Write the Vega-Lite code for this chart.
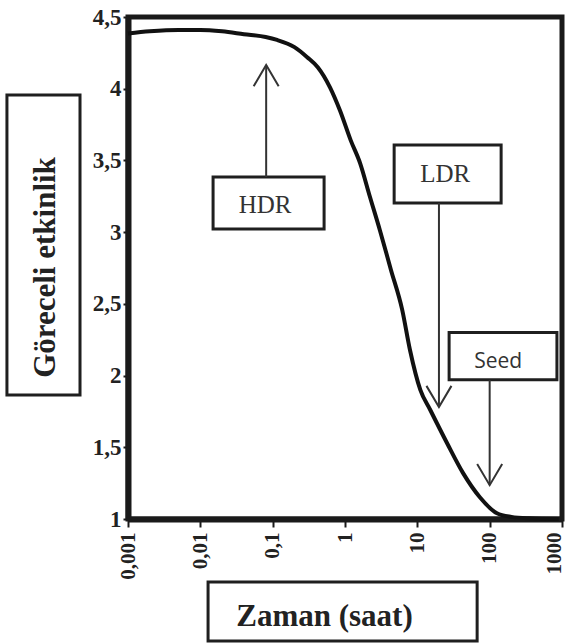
{
  "$schema": "https://vega.github.io/schema/vega-lite/v6.json",
  "width": 434,
  "height": 502,
  "autosize": {"type": "none"},
  "padding": {"left": 128, "top": 17, "right": 3, "bottom": 124},
  "background": "white",
  "config": {
    "view": {"stroke": "#1a1a1a", "strokeWidth": 5},
    "axis": {
      "zindex": 1,
      "grid": false,
      "domainColor": "#1a1a1a",
      "domainWidth": 6,
      "tickColor": "#1a1a1a",
      "tickWidth": 2,
      "tickSize": 5,
      "labelFont": "Liberation Serif",
      "labelFontWeight": "bold",
      "labelColor": "#222",
      "titleFont": "Liberation Serif",
      "titleFontWeight": "bold",
      "titleColor": "#222",
      "titleFontSize": 31
    }
  },
  "datasets": {
    "curve": [
      {"t": 0.001, "v": 4.385},
      {"t": 0.002, "v": 4.40},
      {"t": 0.005, "v": 4.41},
      {"t": 0.01, "v": 4.41},
      {"t": 0.02, "v": 4.40},
      {"t": 0.04, "v": 4.38},
      {"t": 0.08, "v": 4.36},
      {"t": 0.115, "v": 4.34},
      {"t": 0.2, "v": 4.29},
      {"t": 0.3, "v": 4.22},
      {"t": 0.42, "v": 4.15},
      {"t": 0.62, "v": 4.01},
      {"t": 0.85, "v": 3.85},
      {"t": 1.2, "v": 3.64},
      {"t": 1.62, "v": 3.48},
      {"t": 2.2, "v": 3.25},
      {"t": 3.05, "v": 3.01},
      {"t": 4.3, "v": 2.74},
      {"t": 6.17, "v": 2.46},
      {"t": 7.9, "v": 2.18},
      {"t": 11, "v": 1.90},
      {"t": 15.1, "v": 1.76},
      {"t": 25.7, "v": 1.53},
      {"t": 42.9, "v": 1.32},
      {"t": 73.7, "v": 1.15},
      {"t": 126, "v": 1.04},
      {"t": 200, "v": 1.015},
      {"t": 350, "v": 1.005},
      {"t": 900, "v": 1.0}
    ],
    "boxes": [
      {"name": "HDR", "x1": 0.015, "x2": 0.514, "y1": 3.022, "y2": 3.384},
      {"name": "LDR", "x1": 4.78, "x2": 144, "y1": 3.203, "y2": 3.607},
      {"name": "Seed", "x1": 27.5, "x2": 851, "y1": 1.97, "y2": 2.30},
      {"name": "ytitle", "x1": 0.0000212, "x2": 0.000217, "y1": 1.864, "y2": 3.956},
      {"name": "xtitle", "x1": 0.01279, "x2": 67.1, "y1": 0.149, "y2": 0.56}
    ],
    "labels": [
      {"text": "HDR", "x": 0.0785, "y": 3.133, "kind": "serif"},
      {"text": "LDR", "x": 24.3, "y": 3.349, "kind": "serif"},
      {"text": "Seed", "x": 131, "y": 2.052, "kind": "sans"}
    ],
    "arrows": [
      {"x": 0.0813, "y1": 3.384, "y2": 4.165, "dir": "up"},
      {"x": 19.9, "y1": 3.203, "y2": 1.78, "dir": "down"},
      {"x": 100, "y1": 1.97, "y2": 1.236, "dir": "down"}
    ]
  },
  "layer": [
    {
      "data": {"name": "curve"},
      "mark": {"type": "line", "color": "#111", "strokeWidth": 4, "interpolate": "monotone"},
      "encoding": {
        "x": {
          "field": "t", "type": "quantitative",
          "scale": {"type": "log", "domain": [0.001, 1000], "nice": false},
          "axis": {
            "values": [0.001, 0.01, 0.1, 1, 10, 100, 1000],
            "labelExpr": "replace(format(datum.value, '~g'), '.', ',')",
            "labelAngle": 270,
            "labelFontSize": 21,
            "tickSize": 8,
            "labelPadding": 5,
            "labelOffset": {"condition": {"test": "datum.value == 1000", "value": -8}, "value": 0},
            "title": "Zaman (saat)",
            "titleX": 196,
            "titleY": 106,
            "titleAlign": "center",
            "titleBaseline": "alphabetic"
          }
        },
        "y": {
          "field": "v", "type": "quantitative",
          "scale": {"domain": [1, 4.5], "nice": false, "zero": false},
          "axis": {
            "values": [1, 1.5, 2, 2.5, 3, 3.5, 4, 4.5],
            "labelExpr": "replace(format(datum.value, '~g'), '.', ',')",
            "labelFontSize": 23,
            "labelPadding": 2,
            "title": "Göreceli etkinlik",
            "titleAngle": 270,
            "titleX": -83,
            "titleY": 250,
            "titleAlign": "center",
            "titleBaseline": "middle"
          }
        }
      }
    },
    {
      "data": {"name": "boxes"},
      "mark": {"type": "rect", "filled": false, "color": "#1f1f1f", "strokeWidth": 3},
      "encoding": {
        "x": {"field": "x1", "type": "quantitative"},
        "x2": {"field": "x2"},
        "y": {"field": "y1", "type": "quantitative"},
        "y2": {"field": "y2"}
      }
    },
    {
      "data": {"name": "labels"},
      "transform": [{"filter": "datum.kind === 'serif'"}],
      "mark": {"type": "text", "font": "Liberation Serif", "fontSize": 25, "color": "#333", "align": "center", "baseline": "alphabetic"},
      "encoding": {
        "x": {"field": "x", "type": "quantitative"},
        "y": {"field": "y", "type": "quantitative"},
        "text": {"field": "text"}
      }
    },
    {
      "data": {"name": "labels"},
      "transform": [{"filter": "datum.kind === 'sans'"}],
      "mark": {"type": "text", "font": "Open Sans", "fontSize": 21, "color": "#333", "align": "center", "baseline": "alphabetic"},
      "encoding": {
        "x": {"field": "x", "type": "quantitative"},
        "y": {"field": "y", "type": "quantitative"},
        "text": {"field": "text"}
      }
    },
    {
      "data": {"name": "arrows"},
      "mark": {"type": "rule", "color": "#333", "strokeWidth": 2},
      "encoding": {
        "x": {"field": "x", "type": "quantitative"},
        "y": {"field": "y1", "type": "quantitative"},
        "y2": {"field": "y2"}
      }
    },
    {
      "data": {"name": "arrows"},
      "mark": {"type": "point", "filled": false, "color": "#333", "strokeWidth": 2, "size": 625, "opacity": 1},
      "encoding": {
        "x": {"field": "x", "type": "quantitative"},
        "y": {"field": "y2", "type": "quantitative"},
        "shape": {
          "field": "dir", "type": "nominal",
          "scale": {"domain": ["up", "down"], "range": ["M-1,1.7L0,0L1,1.7", "M-1,-1.7L0,0L1,-1.7"]},
          "legend": null
        }
      }
    }
  ]
}
